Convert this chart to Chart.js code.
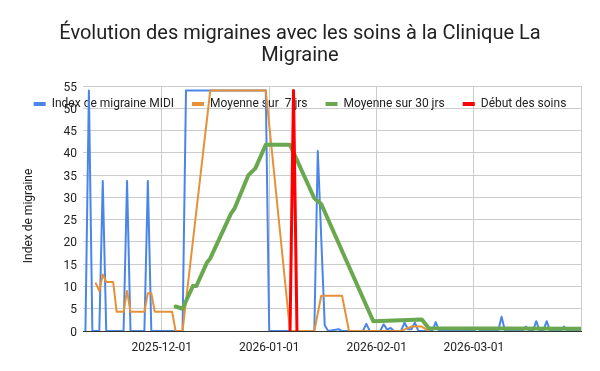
<!DOCTYPE html>
<html lang="fr">
<head>
<meta charset="utf-8">
<title>Évolution des migraines</title>
<script src="https://cdn.jsdelivr.net/npm/chart.js@4.4.0/dist/chart.umd.min.js"></script>
<style>
    html, body { margin: 0; padding: 0; background: #fff; }
    #wrap { width: 600px; height: 371px; }
</style>
</head>
<body>
<div id="wrap"><canvas id="migraineChart" width="600" height="371"></canvas></div>
<script>
// Days are counted from 2025-12-01 (day 0)
const monthTicks = [0, 31, 62, 90];
const monthLabels = ['2025-12-01', '2026-01-01', '2026-02-01', '2026-03-01'];

const seriesNames = ['Index de migraine MIDI', 'Moyenne sur  7 jrs', 'Moyenne sur 30 jrs', 'Début des soins'];

// Index de migraine MIDI
const midiDays = [-22, -21, -20, -18, -17, -16, -11, -10, -9, -5, -4, -3, 6, 7, 30, 31, 44, 45, 47, 48,
    51, 52, 58, 59, 60, 63, 64, 65, 66, 67, 69, 70, 71, 72, 73, 74, 78, 79, 80, 90, 91, 92,
    97, 98, 99, 104, 105, 106, 107, 108, 109, 110, 111, 112, 115, 116, 117, 121];
const midiValues = [0, 54, 0, 0, 33.7, 0, 0, 33.7, 0, 0, 33.7, 0, 0, 54, 54, 0, 0, 40.4, 1.3, 0,
    0.4, 0, 0, 1.6, 0, 0, 1.5, 0.3, 0.7, 0, 0, 1.9, 0.4, 0.4, 1.9, 0, 0, 2.0, 0, 0, 0.7, 0,
    0, 3.2, 0, 0, 1, 0, 0, 2.2, 0, 0, 2.2, 0, 0, 1, 0, 0.3];

// Moyenne sur 7 jours
const avg7Days = [-19, -18, -17, -16, -14, -13, -11, -10, -9, -5, -4, -3, -2, 3, 4, 6, 14, 30, 37, 44, 46, 52, 54, 69, 72, 75, 77];
const avg7Values = [10.7, 9.0, 12.7, 11, 11, 4.3, 4.3, 9.0, 4.3, 4.3, 8.5, 8.5, 4.3, 4.3, 0, 0, 54, 54, 0, 0, 7.9, 7.9, 0, 0, 1, 1, 0];

// Moyenne sur 30 jours
const avg30Days = [4, 6, 9, 10, 13, 14, 20, 21, 25, 27, 30, 37, 44, 46, 61, 75, 77, 121];
const avg30Values = [5.5, 5.0, 10.1, 10.1, 15.3, 16.3, 26.4, 27.5, 35, 36.5, 41.8, 41.8, 29.8, 28.5, 2.2, 2.6, 0.6, 0.5];

// Début des soins
const careDays = [37, 38, 39];
const careValues = [0, 54, 0];

const toPoints = (days, values) => days.map((d, i) => ({ x: d, y: values[i] }));

Chart.defaults.font.family = 'Roboto';
Chart.defaults.font.size = 12;
Chart.defaults.color = '#222';

// legend drawn over the top of the plot, like in Sheets
const overlayLegend = {
    id: 'overlayLegend',
    beforeInit(chart) {
        const legend = chart.legend;
        const fit = legend.fit;
        legend.fit = function () {
            fit.call(this);
            this.realHeight = this.height;
            this.height = 0;
        };
    },
    afterLayout(chart) {
        const legend = chart.legend;
        legend.left = 0;
        legend.right = chart.width;
        legend.width = chart.width;
        legend.top = chart.chartArea.top - 6;
        legend.bottom = legend.top + legend.realHeight;
        const title = chart.titleBlock;
        title.left = 0;
        title.right = chart.width;
        title.width = chart.width;
    },
    beforeDatasetsDraw(chart) {
        const { ctx, chartArea } = chart;
        ctx.save();
        ctx.strokeStyle = '#cccccc';
        ctx.lineWidth = 1;
        ctx.beginPath();
        ctx.moveTo(chartArea.right + 0.5, chartArea.top);
        ctx.lineTo(chartArea.right + 0.5, chartArea.bottom);
        ctx.stroke();
        ctx.restore();
    }
};

const ctx = document.getElementById('migraineChart').getContext('2d');
new Chart(ctx, {
    type: 'line',
    data: {
        datasets: [
            { label: seriesNames[0], data: toPoints(midiDays, midiValues), borderColor: '#4a86e8', borderWidth: 2, order: 3 },
            { label: seriesNames[1], data: toPoints(avg7Days, avg7Values), borderColor: '#e69138', borderWidth: 2, order: 2 },
            { label: seriesNames[2], data: toPoints(avg30Days, avg30Values), borderColor: '#6aa84f', borderWidth: 4, order: 1 },
            { label: seriesNames[3], data: toPoints(careDays, careValues), borderColor: '#ff0000', borderWidth: 3, order: 0 }
        ]
    },
    options: {
        responsive: false,
        animation: false,
        devicePixelRatio: 1,
        layout: { padding: { left: 0, right: 19, top: 0, bottom: 0 } },
        elements: {
            point: { radius: 0, hoverRadius: 0 },
            line: { tension: 0, fill: false, borderJoinStyle: 'round', borderCapStyle: 'round' }
        },
        plugins: {
            title: {
                display: true,
                text: ['Évolution des migraines avec les soins à la Clinique La', 'Migraine'],
                font: { size: 20, weight: 'normal', lineHeight: 1.1 },
                color: '#222',
                padding: { top: 23, bottom: 19 }
            },
            legend: {
                display: true,
                position: 'top',
                labels: {
                    boxWidth: 12,
                    boxHeight: 4,
                    padding: 18,
                    color: '#222',
                    font: { size: 12 },
                    sort: (a, b) => a.datasetIndex - b.datasetIndex,
                    generateLabels(chart) {
                        return Chart.defaults.plugins.legend.labels.generateLabels(chart)
                            .map(item => ({ ...item, fillStyle: item.strokeStyle, lineWidth: 0 }));
                    }
                }
            },
            tooltip: { enabled: false }
        },
        scales: {
            x: {
                type: 'linear',
                min: -22.7,
                max: 120.9,
                afterBuildTicks: scale => { scale.ticks = monthTicks.map(v => ({ value: v })); },
                afterFit: scale => { scale.height = 40; },
                ticks: {
                    autoSkip: false,
                    maxRotation: 0,
                    padding: 10,
                    color: '#222',
                    callback: (value, index) => monthLabels[index]
                },
                grid: { color: '#cccccc', drawTicks: false },
                border: { display: true, color: '#333333', width: 1 }
            },
            y: {
                min: 0,
                max: 55,
                afterFit: scale => { scale.width = 83; },
                ticks: { stepSize: 5, padding: 6, labelOffset: 1.5, color: '#222' },
                grid: { color: '#cccccc', drawTicks: false },
                border: { display: false },
                title: {
                    display: true,
                    // trailing spaces push the rotated title a little lower, as in Sheets
                    text: 'Index de migraine     ',
                    color: '#222',
                    font: { size: 12 },
                    padding: { top: 22, bottom: 0 }
                }
            }
        }
    },
    plugins: [overlayLegend]
});
</script>
</body>
</html>
